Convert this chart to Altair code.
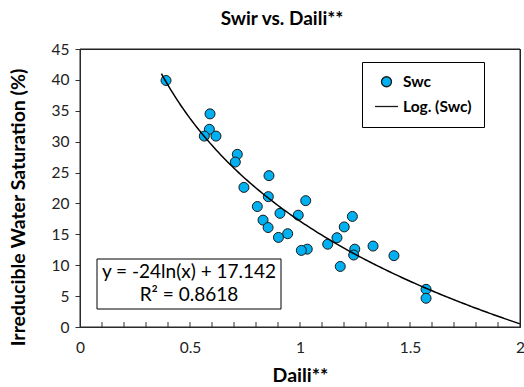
import altair as alt
import pandas as pd

# Measured samples: Daili** index vs. irreducible water saturation (Swc, %)
daili = [0.391, 0.591, 0.588, 0.565, 0.618, 0.715, 0.706, 0.859, 0.745, 0.856,
         1.026, 0.806, 0.909, 0.992, 1.238, 0.832, 1.201, 0.855, 0.944, 0.902,
         1.168, 1.126, 1.332, 1.033, 1.006, 1.249, 1.244, 1.183, 1.427, 1.573,
         1.573]
swc = [39.9, 34.5, 32.0, 30.9, 30.9, 27.95, 26.7, 24.5, 22.6, 21.1,
       20.45, 19.5, 18.4, 18.1, 17.9, 17.3, 16.2, 16.1, 15.1, 14.5,
       14.45, 13.4, 13.1, 12.6, 12.4, 12.6, 11.65, 9.8, 11.55, 6.1,
       4.65]

# Logarithmic trendline y = a*ln(x) + b and its fit quality
trend_slope = -24
trend_intercept = 17.142
trend_r2 = 0.8618
trend_start, trend_stop = 0.37, 2.0

series_names = ["Swc", "Log. (Swc)"]
x_ticks = [0, 0.5, 1, 1.5, 2]
x_minor = [round(i * 0.1, 1) for i in range(1, 20)]
y_ticks = [0, 5, 10, 15, 20, 25, 30, 35, 40, 45]

FONT = "Lato"
W, H = 440, 278

points = pd.DataFrame({"daili": daili, "swc": swc, "series": "Swc"})

x_scale = alt.Scale(domain=[0, 2], nice=False, zero=False)
y_scale = alt.Scale(domain=[0, 45], nice=False)

x_axis = alt.Axis(values=x_ticks, format="~g", ticks=False, labelPadding=13,
                  labelOverlap=False, labelFlush=False,
                  title="Daili**", titleX=W / 2, titleY=48, titleBaseline="middle",
                  grid=False)
y_axis = alt.Axis(values=y_ticks, tickSize=5, labelPadding=6,
                  labelOverlap=False, labelFlush=False,
                  title="Irreducible Water Saturation (%)", titleX=-62, titleY=158,
                  titleBaseline="middle", titleAngle=-90, grid=False)


def x_enc(field):
    return alt.X(field, scale=x_scale, axis=x_axis)


def y_enc(field):
    return alt.Y(field, scale=y_scale, axis=y_axis)


scatter = alt.Chart(points).mark_point(
    filled=True, stroke="#1a1a1a", strokeWidth=1, opacity=1
).encode(
    x=x_enc("daili:Q"),
    y=y_enc("swc:Q"),
    fill=alt.Fill("series:O", scale=alt.Scale(domain=series_names, range=["#00B0F0", "black"]),
                  legend=alt.Legend(title=None, orient="none", legendX=282, legendY=13,
                                    strokeColor="black", fillColor="white", padding=12,
                                    labelOffset=4, rowPadding=3,
                                    symbolStrokeColor="black", symbolStrokeWidth=1.3)),
    shape=alt.Shape("series:O", scale=alt.Scale(domain=series_names, range=["circle", "stroke"])),
    size=alt.Size("series:O", scale=alt.Scale(domain=series_names, range=[100, 529])),
)

trend = alt.Chart(alt.sequence(trend_start, trend_stop + 0.001, 0.01, as_="daili")).transform_calculate(
    swc=f"{trend_slope} * log(datum.daili) + {trend_intercept}"
).mark_line(color="black", strokeWidth=1.5).encode(
    x=x_enc("daili:Q"),
    y=y_enc("swc:Q"),
)

minor_ticks = alt.Chart(pd.DataFrame({"t": x_minor})).mark_rule(color="#333", strokeWidth=1).encode(
    x=x_enc("t:Q"),
    y=alt.value(H - 5),
    y2=alt.value(H),
)

# plot-area frame
frame = alt.Chart(pd.DataFrame({"f": [0]})).mark_rect(
    fillOpacity=0, stroke="#222", strokeWidth=1
).encode(x=alt.value(0), x2=alt.value(W), y=alt.value(0), y2=alt.value(H))

eq = pd.DataFrame({
    "eq": [f"y = {trend_slope}ln(x) + {trend_intercept}"],
    "r2": [f"R² = {trend_r2}"],
})
eq_box = alt.Chart(eq).mark_rect(fill="white", stroke="black", strokeWidth=1).encode(
    x=alt.value(17), x2=alt.value(201), y=alt.value(210), y2=alt.value(260)
)
eq_line1 = alt.Chart(eq).mark_text(font=FONT, fontSize=19, color="black").encode(
    x=alt.value(109), y=alt.value(223), text="eq:N"
)
eq_line2 = alt.Chart(eq).mark_text(font=FONT, fontSize=19, color="black").encode(
    x=alt.value(109), y=alt.value(246), text="r2:N"
)

chart = alt.layer(scatter, trend, minor_ticks, eq_box, eq_line1, eq_line2, frame).properties(
    width=W, height=H,
    title=alt.TitleParams("Swir vs. Daili**", font=FONT, fontSize=19, fontWeight="bold",
                          color="black", offset=13, dx=-18),
    autosize=alt.AutoSizeParams(type="none"),
    padding={"left": 80, "top": 49, "right": 4, "bottom": 60},
).configure_view(
    stroke="#222", strokeWidth=1
).configure_axis(
    labelFont=FONT, labelFontSize=15.5, labelColor="#222",
    titleFont=FONT, titleFontSize=19.5, titleFontWeight="bold", titleColor="black",
    domainColor="#333", tickColor="#333"
).configure_legend(
    labelFont=FONT, labelFontSize=15.5, labelFontWeight="bold", labelColor="black"
)

chart.save("out.html", embed_options={"renderer": "svg", "actions": False})
